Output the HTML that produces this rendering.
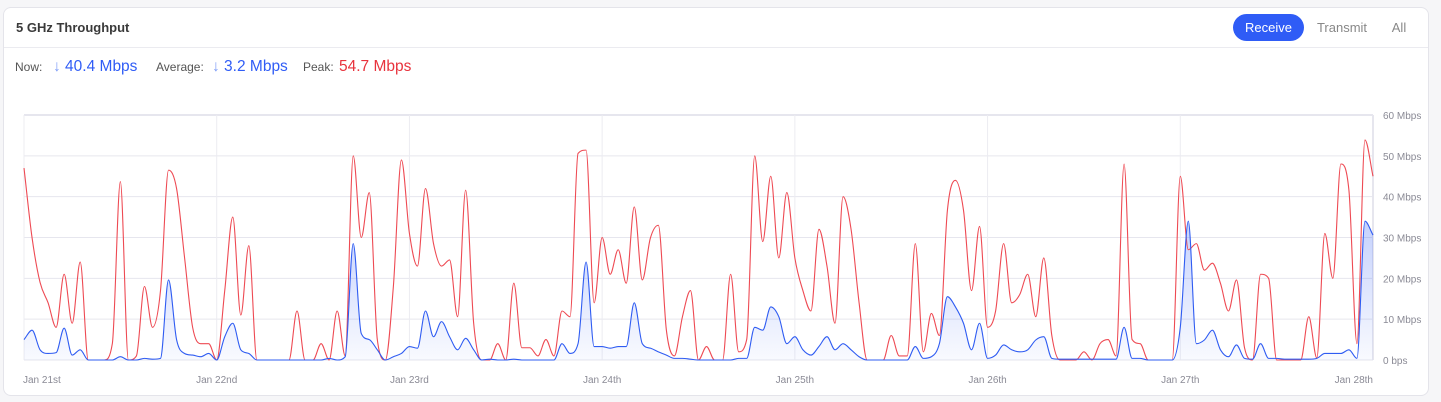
<!DOCTYPE html>
<html><head><meta charset="utf-8"><style>
html,body{margin:0;padding:0;background:#f6f6f8;width:1441px;height:402px;overflow:hidden;font-family:"Liberation Sans",sans-serif}
.card{position:absolute;left:3px;top:7px;width:1426px;height:389px;background:#fff;border:1px solid #e4e4ea;border-radius:8px;box-sizing:border-box}
.title{position:absolute;left:12px;top:12px;font-size:13px;font-weight:bold;color:#3a3a3a}
.div{position:absolute;left:0;right:0;top:39px;height:1px;background:#ebebf0}
.lbl{position:absolute;top:52px;font-size:12px;color:#555}
.val{position:absolute;top:50px;font-size:15.5px}
.btn{position:absolute;top:6px;height:27px;line-height:27px;font-size:13px;color:#888;text-align:center}
svg{position:absolute;left:0;top:0}
</style></head><body>
<div class="card">
<div class="title">5 GHz Throughput</div>
<div class="btn" style="left:1229px;width:71px;background:#2f5cf6;color:#fff;border-radius:14px">Receive</div>
<div class="btn" style="left:1308px;width:60px">Transmit</div>
<div class="btn" style="left:1380px;width:30px">All</div>
<div class="div"></div>
<div class="lbl" style="left:11px">Now:</div>
<div class="val" style="left:49px;color:#2f5cf6"><span style="color:#7d9cf7">↓</span> 40.4 Mbps</div>
<div class="lbl" style="left:152px">Average:</div>
<div class="val" style="left:208px;color:#2f5cf6"><span style="color:#7d9cf7">↓</span> 3.2 Mbps</div>
<div class="lbl" style="left:299px">Peak:</div>
<div class="val" style="left:335px;color:#e8333d">54.7 Mbps</div>
</div>
<svg id="chart" width="1441" height="402">
<defs><linearGradient id="bf" x1="0" y1="0" x2="0" y2="1"><stop offset="0" stop-color="#2f5cf6" stop-opacity="0.28"/><stop offset="1" stop-color="#2f5cf6" stop-opacity="0.03"/></linearGradient></defs>
</svg>
<script>
const yTicks=[0,10,20,30,40,50,60];
const yTickLabels=["0 bps","10 Mbps","20 Mbps","30 Mbps","40 Mbps","50 Mbps","60 Mbps"];
const dayTicks=[0,24,48,72,96,120,144,168];
const dayLabels=["Jan 21st","Jan 22nd","Jan 23rd","Jan 24th","Jan 25th","Jan 26th","Jan 27th","Jan 28th"];
const receiveRed=[47,30,19,14,8,21,9,24,0,0,0,4,43.7,0,1,18,8,17,46.5,42,25,8,4,4,0,17,35,11,28,0,0,0,0,0,12,0,0,4,0,12,1,50,30,
41,5,0,18,49,31,23,42,28.5,23,24.5,10.6,41.6,9,0,0,4,0,18.8,3,3,1,5,1,12,10.6,50.6,51.4,14,30,21,27,18.8,37.5,19.6,29.8,33,7.3,1,10.6,17,0,
3.3,0,0,21,2,5,50,29,45,25,41,25,17,12,32,23,9,40,32,14,0,0,0,6,1,1,28.5,2,11.4,6,36.7,44,36.7,17,32.7,8,12,28.5,14,16,21,10.6,
25,6,0,0,0,2,0,4,5,1,48,5,4,0,0,0,0,45,27,28.5,22,23.7,18.8,12,19.6,3,0,21,20,0,0,0,0,10.6,0.5,31,20,48,41.6,4,53.9,45];
const receiveBlue=[5,7.3,2.5,1.6,1.8,7.8,1.2,2.5,0,0,0,0,0.8,0,0,0.4,0.2,0.4,19.6,5,1.6,1.2,0.8,1.6,0,5.7,9,2.5,1.6,0,0,0,0,0,0,0,0,0,0.4,0,0.8,28.5,6.5,
5,2.5,0,0.8,1.6,3.3,2.9,12,5.7,9.4,5.7,2.5,5.3,2.5,0,0.2,0,0,0.2,0,0,0,0,0,4,1.6,4,24,3.3,3.3,2.9,3.3,3.3,14,4,2.9,2,1.2,0.4,0.4,0.2,0,
0,0,0,0,0.4,0.4,8,7.3,13,10.6,4,5.7,2.5,1.2,3.3,5.7,2.5,4,2.5,0.8,0,0,0,0,0,0,3.3,0.4,0.8,4,15.5,13,9,2.5,9,0.4,1.2,3.7,2.5,2,2.5,4.9,
5.7,0.4,0.2,0.2,0.2,0.2,0.2,0.2,0.2,0.2,8,0.4,0.4,0,0,0,0,8,34,4,4.9,7.3,2.5,0.8,3.7,0.4,0.2,4,0.4,0.4,0.2,0.2,0.2,0.2,0.4,1.6,1.6,1.6,2.5,0.4,34,30.6];

const X0=24,X1=1373,Y0=360,Y1=115,HMAX=168,VMAX=60;
const xs=h=>X0+(X1-X0)*h/HMAX;
const ys=v=>Y0-(Y0-Y1)*v/VMAX;
const svg=document.getElementById('chart');
const NS='http://www.w3.org/2000/svg';
function mk(tag,attrs){const e=document.createElementNS(NS,tag);for(const k in attrs)e.setAttribute(k,attrs[k]);svg.appendChild(e);return e;}
yTicks.forEach((t,i)=>{
  const l=mk('line',{x1:X0,x2:X1,y1:ys(t),y2:ys(t),stroke:'#e6e6ee','stroke-width':i==yTicks.length-1?2:1});
  
  
  const tx=mk('text',{x:1383,y:ys(t)+4,'font-size':10,fill:'#8a8a95','font-family':'Liberation Sans, sans-serif'});
  tx.textContent=yTickLabels[i];
  
  
});
dayTicks.forEach((d,i)=>{
  const l=mk('line',{x1:xs(d),x2:xs(d),y1:Y1,y2:Y0,stroke:i==dayTicks.length-1?'#e6e6ee':'#ececf1','stroke-width':i==dayTicks.length-1?2:1});
  
  
  const anchor=i==0?'start':(i==dayTicks.length-1?'end':'middle');
  const tx=mk('text',{x:xs(d)+(i==0?-1:0),y:383,'font-size':10,fill:'#8a8a95','text-anchor':anchor,'font-family':'Liberation Sans, sans-serif'});
  tx.textContent=dayLabels[i];
  
  
});
function monotonePath(vals){
  const n=vals.length,px=vals.map((v,i)=>xs(i)),py=vals.map(v=>ys(v));
  const d=[],m=new Array(n);
  for(let i=0;i<n-1;i++)d.push((py[i+1]-py[i])/(px[i+1]-px[i]));
  m[0]=d[0];m[n-1]=d[n-2];
  for(let i=1;i<n-1;i++){m[i]=(d[i-1]*d[i]<=0)?0:(d[i-1]+d[i])/2;}
  for(let i=0;i<n-1;i++){if(d[i]===0){m[i]=0;m[i+1]=0;continue;}const a=m[i]/d[i],b=m[i+1]/d[i],s=a*a+b*b;if(s>9){const t=3/Math.sqrt(s);m[i]=t*a*d[i];m[i+1]=t*b*d[i];}}
  let p='M'+px[0]+','+py[0];
  for(let i=0;i<n-1;i++){const h=(px[i+1]-px[i])/3;p+=' C'+(px[i]+h)+','+(py[i]+m[i]*h)+' '+(px[i+1]-h)+','+(py[i+1]-m[i+1]*h)+' '+px[i+1]+','+py[i+1];}
  return p;
}
const bp=monotonePath(receiveBlue);
const area=mk('path',{d:bp+' L'+xs(receiveBlue.length-1)+','+Y0+' L'+xs(0)+','+Y0+' Z',fill:'url(#bf)'});


const red=mk('path',{d:monotonePath(receiveRed),fill:'none',stroke:'#ee4a53','stroke-width':1.1});


const blue=mk('path',{d:bp,fill:'none',stroke:'#2f5cf2','stroke-width':1.1});


</script>
</body></html>
